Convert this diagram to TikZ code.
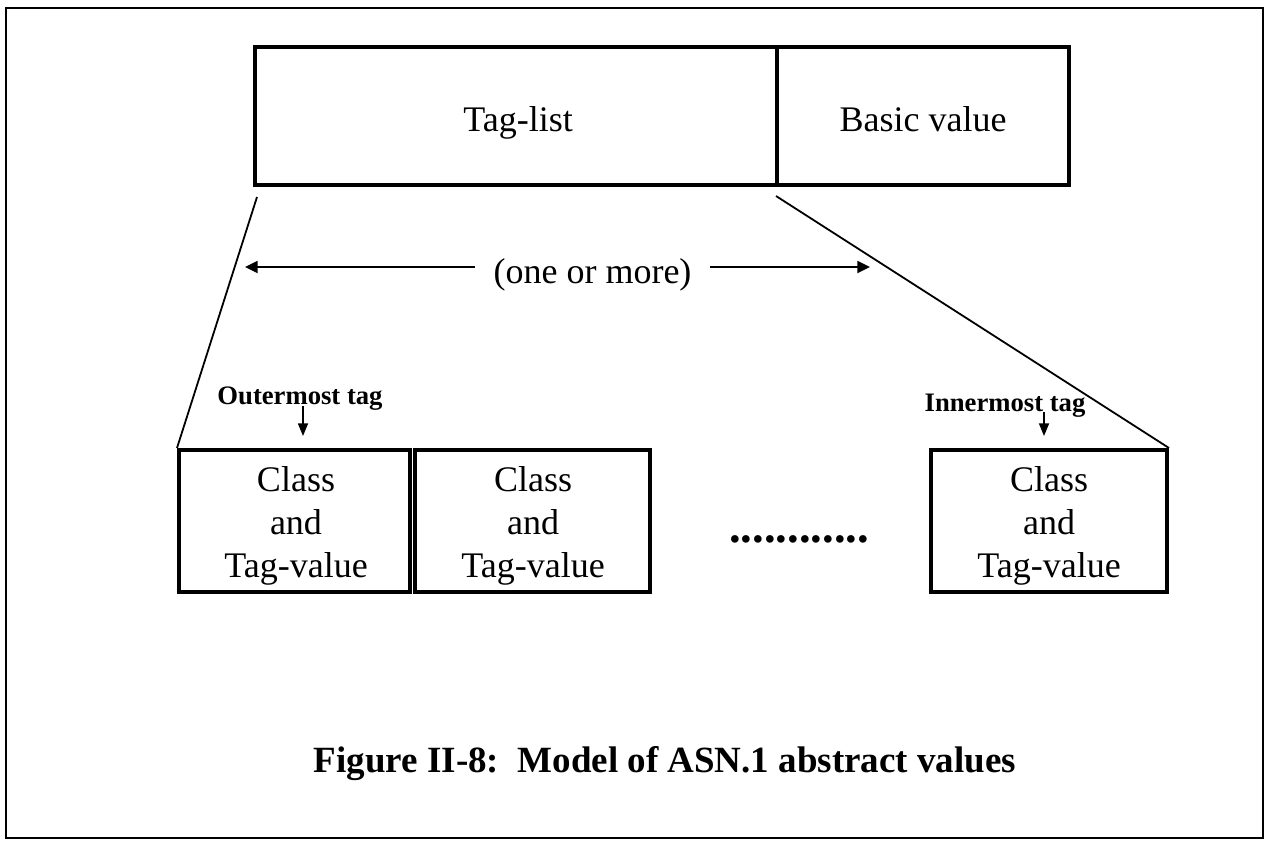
\documentclass[tikz,border=0pt]{standalone}
\usepackage{fontspec}
\setmainfont{Liberation Serif}
\usetikzlibrary{arrows.meta}
\begin{document}
\begin{tikzpicture}[x=0.75pt,y=-0.75pt,
  thickbox/.style={draw,line width=3pt,inner sep=0pt},
  thinline/.style={line width=1.35pt},
  arr/.style={thinline,-{Triangle[length=9.5pt,width=9pt]}},
  smallarr/.style={line width=1.3pt,-{Triangle[length=9.5pt,width=7.5pt]}},
  maintxt/.style={font=\fontsize{27}{32.25}\selectfont,inner sep=0pt},
  boxtxt/.style={font=\fontsize{27}{32.25}\selectfont,align=center,inner sep=0pt},
  tagtxt/.style={font=\bfseries\fontsize{20}{24}\selectfont,inner sep=0pt,anchor=base},
]
\useasboundingbox (0,0) rectangle (1266,840);
\draw[line width=2.2pt] (6,8) rectangle (1263,838);

% top boxes
\node[thickbox,minimum width=391.5pt,minimum height=103.5pt] (tl) at (516,116) {};
\node[thickbox,minimum width=219pt,minimum height=103.5pt] (bv) at (923,116) {};
\node[maintxt,anchor=base] (tlt) at (518,131) {Tag-list};
\node[maintxt,anchor=base] (bvt) at (923,131) {Basic value};

% lower boxes
\node[thickbox,minimum width=173.25pt,minimum height=106.5pt] (c1) at (294.5,521) {};
\node[thickbox,minimum width=176.25pt,minimum height=106.5pt] (c2) at (532.5,521) {};
\node[thickbox,minimum width=177pt,minimum height=106.5pt] (c3) at (1049,521) {};
\node[boxtxt] (c1t) at (296,526) {Class\\and\\Tag-value};
\node[boxtxt] (c2t) at (533,526) {Class\\and\\Tag-value};
\node[boxtxt] (c3t) at (1049,526) {Class\\and\\Tag-value};

% slanted lines
\coordinate (ls) at (257,197);
\coordinate (rs) at (776,196);
\draw[thinline] (ls) -- (c1.north west);
\draw[thinline] (rs) -- (c3.north east);

% one or more
\node[maintxt,anchor=base,inner xsep=14pt] (om) at (592.5,283) {(one or more)};
\coordinate (lt) at (245,267);
\coordinate (rt) at (870,267);
\draw[arr] (om.west |- lt) -- (lt);
\draw[arr] (om.east |- rt) -- (rt);

% tag labels
\node[tagtxt] (ot) at (300,404) {Outermost tag};
\node[tagtxt] (it) at (1005,411) {Innermost tag};
\coordinate (ota) at (303,406);
\coordinate (otb) at (303,436);
\coordinate (ita) at (1044,412);
\coordinate (itb) at (1044,436);
\draw[smallarr] (ota) -- (otb);
\draw[smallarr] (ita) -- (itb);

% dots
\node[font=\bfseries\fontsize{35}{40}\selectfont,inner sep=0pt,anchor=base] (dots) at (799,542) {............};

% caption
\node[font=\bfseries\fontsize{27.75}{33}\selectfont,inner sep=0pt,anchor=base] (cap) at (665,772) {Figure II-8:\ \ Model of ASN.1 abstract values};
\end{tikzpicture}
\end{document}
